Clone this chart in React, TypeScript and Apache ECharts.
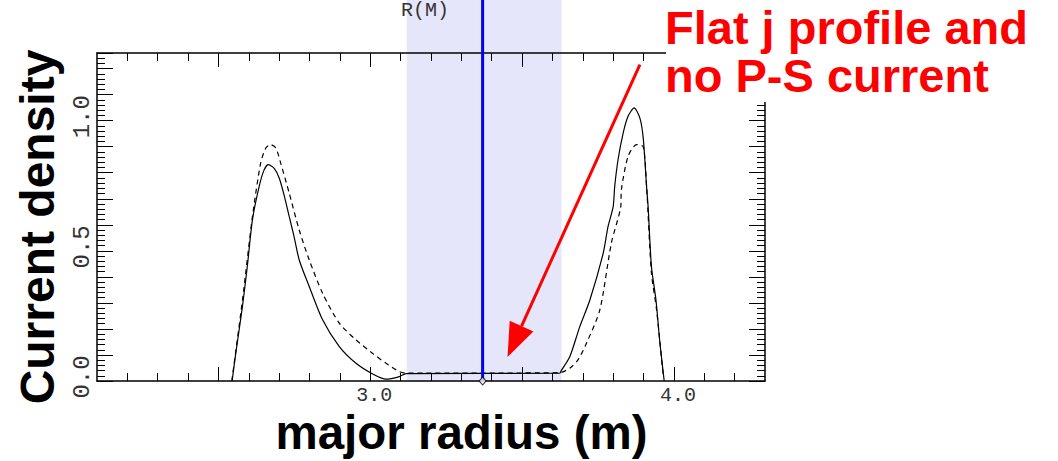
import React, { useEffect, useRef } from 'react';
import * as echarts from 'echarts';

// ---- data (major radius in m, current density) ----
const SOLID_R = [2.545, 2.557, 2.579, 2.595, 2.612, 2.634, 2.65, 2.664, 2.683, 2.7, 2.716, 2.733, 2.749, 2.766, 2.799, 2.843, 2.898, 2.953, 3.008, 3.052, 3.096, 3.118, 3.624, 3.629, 3.657, 3.69, 3.723, 3.767, 3.783, 3.8, 3.805, 3.816, 3.833, 3.849, 3.869, 3.888, 3.899, 3.91, 3.915, 3.926, 3.941, 3.954, 3.968];
const SOLID_J = [0.0, 0.106, 0.286, 0.44, 0.62, 0.747, 0.81, 0.831, 0.818, 0.78, 0.715, 0.632, 0.555, 0.465, 0.363, 0.235, 0.132, 0.068, 0.027, 0.007, 0.017, 0.028, 0.03, 0.04, 0.093, 0.209, 0.31, 0.49, 0.593, 0.67, 0.747, 0.85, 0.953, 1.017, 1.049, 1.01, 0.933, 0.747, 0.67, 0.44, 0.31, 0.145, 0.0];

const DASHED_R = [2.544, 2.579, 2.612, 2.639, 2.656, 2.672, 2.689, 2.705, 2.733, 2.766, 2.799, 2.843, 2.898, 2.953, 3.008, 3.052, 3.096, 3.118, 3.624, 3.657, 3.684, 3.712, 3.756, 3.794, 3.825, 3.827, 3.849, 3.877, 3.899, 3.91, 3.926, 3.943, 3.965];
const DASHED_J = [0.0, 0.31, 0.632, 0.837, 0.895, 0.908, 0.895, 0.837, 0.722, 0.58, 0.465, 0.337, 0.222, 0.158, 0.106, 0.068, 0.036, 0.03, 0.032, 0.049, 0.081, 0.145, 0.273, 0.53, 0.67, 0.735, 0.863, 0.908, 0.9, 0.747, 0.414, 0.273, 0.017];

// axis ranges and ticks
const X_RANGE = [2.1, 4.3];
const Y_RANGE = [0, 1.26];
const X_MINOR_TICKS = [2.2, 2.3, 2.4, 2.5, 2.6, 2.7, 2.8, 2.9, 3.0, 3.1, 3.2, 3.3, 3.4, 3.5, 3.6, 3.7, 3.8, 3.9, 4.0, 4.1, 4.2];
const X_MAJOR_TICKS = [2.5, 3.0, 3.5, 4.0];
const X_LABELS = [3.0, 4.0];
const Y_LABELS = [0.0, 0.5, 1.0];

// annotations (data coordinates)
const AXIS_R = [3.37];           // magnetic axis R(M)
const BAND_R = [3.12, 3.63];     // shaded region
const ARROW_TAIL = [3.888, 1.215];
const ARROW_TIP = [3.452, 0.092];

const TITLE_LINES = ['Flat j profile and', 'no P-S current'];
const X_NAME = 'major radius (m)';
const Y_NAME = 'Current density';
const AXIS_TEXT = 'R(M)';

const zip = (a: number[], b: number[]) => a.map((v, i) => [v, b[i]]);

const TICK_FONT = 'Liberation Mono';
const FAMILY = '"Liberation Sans", Arial, sans-serif';

export default function App() {
  const ref = useRef<HTMLDivElement>(null);
  useEffect(() => {
    const chart = echarts.init(ref.current!, undefined, { renderer: 'svg' });
    const lineBlack = { color: '#000', width: 1.5 };
    const baseX = {
      type: 'value' as const,
      min: X_RANGE[0],
      max: X_RANGE[1],
      splitLine: { show: false },
      axisLabel: { show: false },
    };
    const baseY = {
      type: 'value' as const,
      min: Y_RANGE[0],
      max: Y_RANGE[1],
      interval: 0.1,
      splitLine: { show: false },
      axisLine: { show: true, lineStyle: lineBlack },
      axisTick: { show: true, inside: true, length: 16, lineStyle: { color: '#000', width: 1 } },
      minorTick: { show: true, splitNumber: 5, length: 8, lineStyle: { color: '#000', width: 1 } },
    };
    chart.setOption({
      animation: false,
      backgroundColor: '#fff',
      grid: { left: 97, right: 293, top: 53, bottom: 80, containLabel: false, outerBoundsMode: 'none' },
      xAxis: [
        {
          ...baseX,
          position: 'bottom',
          axisLine: { show: true, lineStyle: lineBlack, onZero: false },
          axisTick: { show: true, inside: true, length: 8, customValues: X_MINOR_TICKS, lineStyle: { color: '#000', width: 1 } },
          axisLabel: {
            show: true,
            customValues: X_LABELS,
            formatter: (v: number) => v.toFixed(1),
            margin: 5,
            fontFamily: TICK_FONT,
            fontSize: 20,
            lineHeight: 18,
            padding: [0, 0, 0, 8],
            color: '#333',
          },
        },
        {
          ...baseX,
          position: 'bottom',
          axisLine: { show: false, onZero: false },
          axisTick: { show: true, inside: true, length: 14, customValues: X_MAJOR_TICKS, lineStyle: { color: '#000', width: 1 } },
        },
        {
          ...baseX,
          position: 'top',
          axisLine: { show: true, lineStyle: lineBlack, onZero: false },
          axisTick: { show: true, inside: true, length: 8, customValues: X_MINOR_TICKS, lineStyle: { color: '#000', width: 1 } },
        },
        {
          ...baseX,
          position: 'top',
          axisLine: { show: false, onZero: false },
          axisTick: { show: true, inside: true, length: 14, customValues: X_MAJOR_TICKS, lineStyle: { color: '#000', width: 1 } },
        },
      ],
      yAxis: [
        {
          ...baseY,
          position: 'left',
          axisLabel: {
            show: true,
            customValues: Y_LABELS,
            formatter: (v: number) => v.toFixed(1),
            rotate: 90,
            margin: 5,
            fontFamily: TICK_FONT,
            fontSize: 24,
            lineHeight: 20,
            padding: [0, 0, 0, 8],
            color: '#333',
          },
        },
        { ...baseY, position: 'right', axisLabel: { show: false } },
      ],
      series: [
        {
          type: 'line',
          xAxisIndex: 0,
          yAxisIndex: 0,
          data: zip(SOLID_R, SOLID_J),
          showSymbol: false,
          symbol: 'none',
          smooth: 0.25,
          lineStyle: { color: '#000', width: 1.2 },
          z: 3,
        },
        {
          type: 'line',
          xAxisIndex: 0,
          yAxisIndex: 0,
          data: zip(DASHED_R, DASHED_J),
          showSymbol: false,
          symbol: 'none',
          smooth: 0.25,
          lineStyle: { color: '#000', width: 1.2, type: [5, 4] },
          z: 3,
        },
        {
          type: 'scatter',
          xAxisIndex: 0,
          yAxisIndex: 0,
          data: [[AXIS_R[0], 0]],
          symbol: 'diamond',
          symbolSize: [7, 8],
          itemStyle: { color: '#fff', borderColor: '#000', borderWidth: 1 },
          z: 6,
        },
      ],
    });

    const px = (x: number, y: number) => chart.convertToPixel({ xAxisIndex: 0, yAxisIndex: 0 }, [x, y]) as number[];
    const [b0] = px(BAND_R[0], 0);
    const [b1] = px(BAND_R[1], 0);
    const [ax, y0] = px(AXIS_R[0], 0);
    const tail = px(ARROW_TAIL[0], ARROW_TAIL[1]);
    const tip = px(ARROW_TIP[0], ARROW_TIP[1]);
    const dx = tip[0] - tail[0];
    const dy = tip[1] - tail[1];
    const len = Math.hypot(dx, dy);
    const ux = dx / len;
    const uy = dy / len;
    const headLen = 34;
    const headHalf = 13;
    const bx = tip[0] - ux * headLen;
    const by = tip[1] - uy * headLen;

    chart.setOption({
      graphic: [
        {
          type: 'rect',
          z: -1,
          silent: true,
          shape: { x: b0, y: 0, width: b1 - b0, height: y0 + 1 },
          style: { fill: '#e6e6fa' },
        },
        {
          type: 'line',
          z: 5,
          silent: true,
          shape: { x1: ax, y1: 0, x2: ax, y2: y0 },
          style: { stroke: '#0000ee', lineWidth: 3 },
        },
        {
          type: 'text',
          z: 5,
          x: 425,
          y: 10,
          style: { text: AXIS_TEXT, font: `20px "${TICK_FONT}"`, fill: '#333', align: 'center', verticalAlign: 'middle' },
        },
        {
          type: 'rect',
          z: 10,
          silent: true,
          shape: { x: 666, y: 0, width: 392, height: 102 },
          style: { fill: '#fff' },
        },
        {
          type: 'text',
          z: 11,
          x: 665,
          y: 27.4,
          style: { text: TITLE_LINES[0], font: `bold 47px ${FAMILY}`, fill: '#ff0000', align: 'left', verticalAlign: 'middle' },
        },
        {
          type: 'text',
          z: 11,
          x: 665,
          y: 75.4,
          style: { text: TITLE_LINES[1], font: `bold 47px ${FAMILY}`, fill: '#ff0000', align: 'left', verticalAlign: 'middle' },
        },
        {
          type: 'line',
          z: 12,
          silent: true,
          shape: { x1: tail[0], y1: tail[1], x2: bx, y2: by },
          style: { stroke: '#ff0000', lineWidth: 3 },
        },
        {
          type: 'polygon',
          z: 12,
          silent: true,
          shape: {
            points: [
              [tip[0], tip[1]],
              [bx - uy * headHalf, by + ux * headHalf],
              [bx + uy * headHalf, by - ux * headHalf],
            ],
          },
          style: { fill: '#ff0000' },
        },
        {
          type: 'text',
          z: 11,
          x: 461.5,
          y: 432,
          style: { text: X_NAME, font: `bold 47.5px ${FAMILY}`, fill: '#000', align: 'center', verticalAlign: 'middle' },
        },
        {
          type: 'text',
          z: 11,
          x: 37.4,
          y: 227,
          rotation: Math.PI / 2,
          style: { text: Y_NAME, font: `bold 48px ${FAMILY}`, fill: '#000', align: 'center', verticalAlign: 'middle' },
        },
      ],
    });
    return () => chart.dispose();
  }, []);
  return <div ref={ref} style={{ position: 'fixed', left: 0, top: 0, width: 1058, height: 461 }} />;
}
